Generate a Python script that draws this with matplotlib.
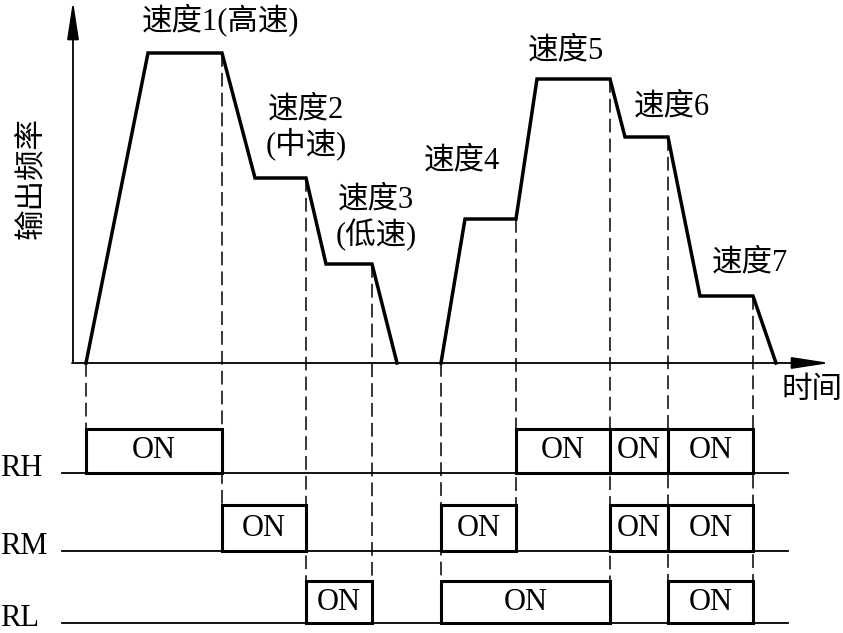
import matplotlib.pyplot as plt
from matplotlib.patches import Rectangle

plt.rcParams['font.family'] = ['Liberation Serif', 'Noto Sans CJK SC']

# output frequency profile (time, frequency height above the time axis)
t_run1 = [86, 148, 222, 255, 306, 326, 372, 397]
f_run1 = [0, 310, 310, 185, 185, 99, 99, 0]
t_run2 = [441, 465, 516, 537, 610, 625, 668, 700, 753, 776]
f_run2 = [0, 144, 144, 284, 284, 226, 226, 67, 67, 0]

# speed labels: text, time, freq
speed_labels = ['速度1(高速)', '速度2', '(中速)', '速度3', '(低速)', '速度4', '速度5', '速度6', '速度7']
speed_t = [220, 306, 306, 376, 376, 462, 566, 672, 750]
speed_f = [343, 253, 219, 163, 128, 202, 312, 256, 100]

# relay signals: name, baseline level, ON intervals
relays = ['RH', 'RM', 'RL']
relay_base = [-110, -188, -260]
relay_top = [-66, -142, -218]
relay_on = [
    [(86, 222), (516, 610), (610, 668), (668, 753)],
    [(222, 306), (441, 516), (610, 668), (668, 753)],
    [(306, 372), (441, 610), (668, 753)],
]

# switching instants (dashed guides): time, start freq, end level
switch_t = [86, 222, 306, 372, 441, 516, 610, 668, 753]
switch_f = [0, 310, 185, 99, 0, 144, 284, 226, 67]
switch_end = [-66, -142, -218, -218, -218, -142, -218, -218, -218]

fig = plt.figure(figsize=(8.43, 6.33), dpi=100)
ax = fig.add_axes([0, 0, 1, 1])
ax.set_xlim(0, 843)
ax.set_ylim(-270, 363)
ax.axis('off')

fs = 22

# axes with arrows
ax.annotate('', xy=(73, 362), xytext=(73, 0),
            arrowprops=dict(arrowstyle='-|>,head_length=1.3,head_width=0.2', lw=1.3, color='black', mutation_scale=18, shrinkA=0, shrinkB=0))
ax.annotate('', xy=(830, 0), xytext=(72, 0),
            arrowprops=dict(arrowstyle='-|>,head_length=1.3,head_width=0.2', lw=1.3, color='black', mutation_scale=18, shrinkA=0, shrinkB=0))

# dashed guides
for t, f0, f1 in zip(switch_t, switch_f, switch_end):
    ax.plot([t, t], [f0, f1], color='black', lw=1.1, dashes=(9, 4), zorder=1)

# frequency profile
ax.plot(t_run1, f_run1, color='black', lw=2.5, solid_joinstyle='miter', zorder=3)
ax.plot(t_run2, f_run2, color='black', lw=2.5, solid_joinstyle='miter', zorder=3)

for s, t, f in zip(speed_labels, speed_t, speed_f):
    ax.text(t, f, s, fontsize=fs, ha='center', va='center')

ax.text(33, 185, '输出频率', fontsize=fs, rotation=90, ha='center', va='center')
ax.text(812, -28, '时间', fontsize=fs, ha='center', va='center')

# relay rows
for name, base, top, ons in zip(relays, relay_base, relay_top, relay_on):
    ax.plot([62, 788], [base, base], color='black', lw=1.3, zorder=2)
    ax.text(0, base + 4, name, fontsize=fs, ha='left', va='center')
    for a, b in ons:
        ax.add_patch(Rectangle((a, base), b - a, top - base, facecolor='white',
                               edgecolor='black', lw=2.2, joinstyle='miter', zorder=4))
        ax.text((a + b) / 2, (base + top) / 2, 'ON', fontsize=fs, ha='center', va='center', zorder=5)

plt.savefig('out.png', dpi=100)
